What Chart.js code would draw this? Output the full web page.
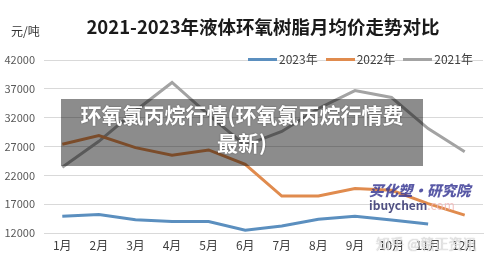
<!DOCTYPE html>
<html>
<head>
<meta charset="utf-8">
<script src="https://cdn.jsdelivr.net/npm/chart.js@4/dist/chart.umd.min.js"></script>
<style>
  html, body { margin:0; padding:0; background:#fff; }
  #wrap { position:relative; width:486px; height:265px; overflow:hidden; font-family:'Noto Sans CJK SC','Liberation Sans',sans-serif; }
  canvas { position:absolute; left:0; top:0; }
  .abs { position:absolute; white-space:nowrap; }
  #title { left:40px; width:446px; top:13px; text-align:center; font-size:18.5px; font-weight:700; color:#1a1a1a; line-height:26px; }
  #unit { left:11px; top:22px; font-size:12px; color:#333; line-height:18px; }
  #legend { left:248px; top:50px; display:flex; align-items:center; font-size:12px; color:#404040; line-height:18px; }
  #legend .item { display:flex; align-items:center; margin-right:8px; }
  #legend .sw { width:29px; height:3px; margin-right:2px; }
  #banner { left:61px; top:99px; width:362px; height:67px; background:rgba(0,0,0,0.45); color:#fff; font-size:21px; font-weight:700; text-align:center; line-height:28px; padding-top:1px; box-sizing:border-box; text-shadow:0 0 2px rgba(0,0,0,0.4); white-space:normal; }
  #wm1 { left:369px; top:179px; font-size:14.5px; font-weight:900; font-style:italic; color:rgba(60,60,150,0.85); line-height:22px; }
  #wm2 { left:369px; top:196px; font-size:12px; font-weight:700; color:rgba(50,50,110,0.85); line-height:18px; }
  #wm2 span { color:rgba(240,180,180,0.8); font-weight:400; }
  #wm3 { left:376px; top:233px; font-size:14px; color:rgba(235,235,235,0.85); line-height:20px; text-shadow:0 0 1px rgba(120,120,120,0.6); }
</style>
</head>
<body>
<div id="wrap">
  <canvas id="c" width="486" height="265"></canvas>
  <div id="title" class="abs">2021-2023年液体环氧树脂月均价走势对比</div>
  <div id="unit" class="abs">元/吨</div>
  <div id="legend" class="abs"></div>
  <div id="banner" class="abs">环氧氯丙烷行情(环氧氯丙烷行情费<br>最新)</div>
  <div id="wm1" class="abs">买化塑·研究院</div>
  <div id="wm2" class="abs">ibuychem<span>.com</span></div>
  <div id="wm3" class="abs">知乎 @赣正资讯</div>
</div>
<script>
const months = ['1月','2月','3月','4月','5月','6月','7月','8月','9月','10月','11月','12月'];
const seriesNames = ['2023年','2022年','2021年'];
const values2023 = [14900,15200,14300,14000,14000,12500,13200,14400,14900,14250,13550,null];
const values2022 = [27400,28900,26800,25500,26400,23900,18400,18400,19700,19400,17100,15100];
const values2021 = [23400,27900,33200,38100,32500,27200,29600,33600,36700,35500,30100,26100];
const yMin = 12000, yMax = 42000, yStep = 5000;
const seriesColors = ['#5b8fbf','#e08b4e','#a3a3a3'];

Chart.defaults.font.family = "'Noto Sans CJK SC','Liberation Sans',sans-serif";

const seriesValues = [values2023, values2022, values2021];
const datasets = seriesNames.map((name, i) => ({
  label: name,
  data: seriesValues[i],
  borderColor: seriesColors[i],
  backgroundColor: seriesColors[i],
  borderWidth: 3,
  pointRadius: 0,
  tension: 0,
  fill: false,
  spanGaps: false
}));

// HTML legend built from series names / colours
const lg = document.getElementById('legend');
seriesNames.forEach((name, i) => {
  const it = document.createElement('div'); it.className = 'item';
  const sw = document.createElement('div'); sw.className = 'sw'; sw.style.background = seriesColors[i];
  const tx = document.createElement('span'); tx.textContent = name;
  it.appendChild(sw); it.appendChild(tx); lg.appendChild(it);
});

new Chart(document.getElementById('c'), {
  type: 'line',
  data: { labels: months, datasets: datasets },
  options: {
    responsive: false,
    animation: false,
    devicePixelRatio: 1,
    layout: { padding: { top: 60, right: 3, bottom: 0, left: 0 } },
    plugins: { legend: { display: false }, tooltip: { enabled: false } },
    scales: {
      x: {
        offset: true,
        grid: { display: false, drawTicks: false },
        border: { display: true, color: '#d9d9d9', width: 1 },
        ticks: { color: '#404040', font: { size: 12 }, padding: 5, maxRotation: 0, autoSkip: false },
        afterFit: s => { s.height = 32; }
      },
      y: {
        min: yMin, max: yMax,
        grid: { color: '#d9d9d9', drawTicks: false, lineWidth: 1 },
        border: { display: false },
        ticks: { stepSize: yStep, color: '#595959', font: { size: 11 }, padding: 9, callback: v => String(v) },
        afterFit: s => { s.width = 44; }
      }
    }
  }
});
</script>
</body>
</html>
